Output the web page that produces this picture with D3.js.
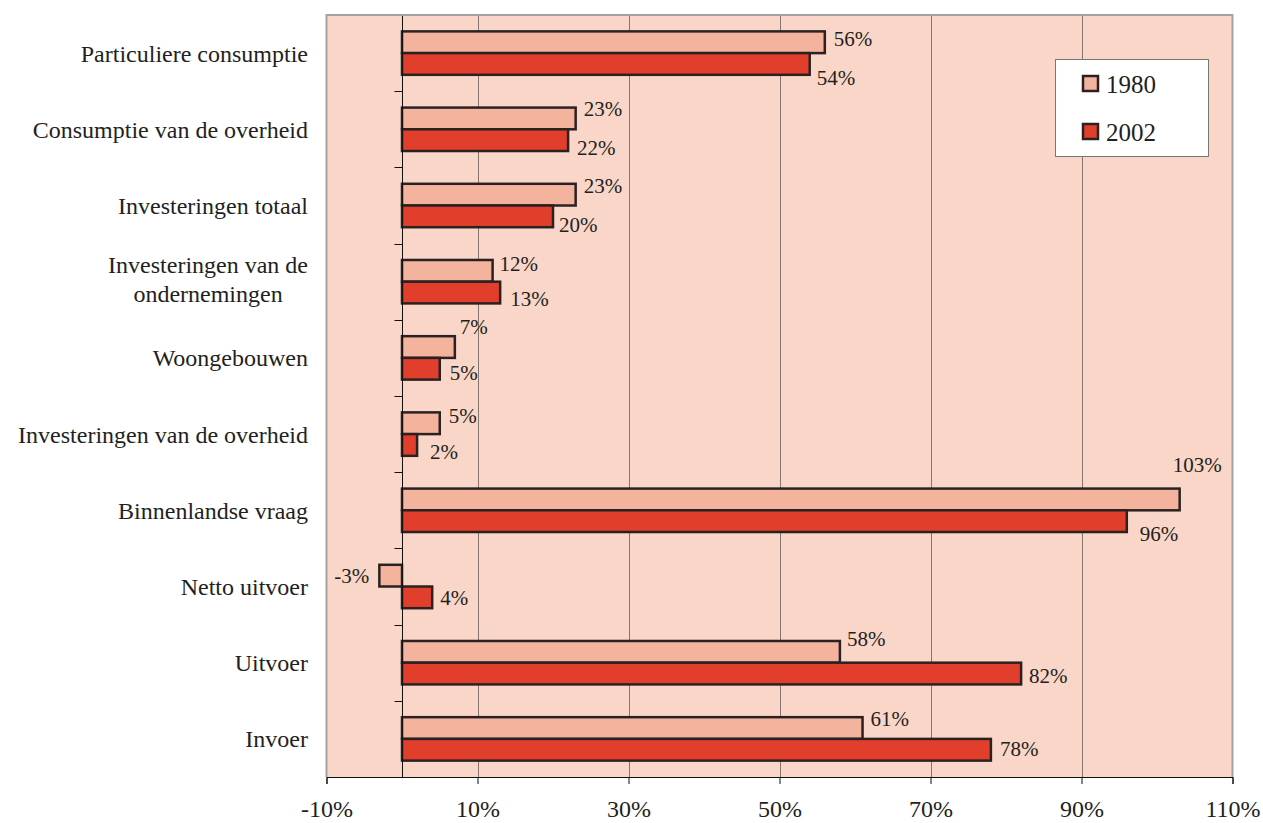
<!DOCTYPE html>
<html>
<head>
<meta charset="utf-8">
<script src="https://cdn.jsdelivr.net/npm/d3@7"></script>
<style>
  html, body { margin: 0; padding: 0; background: #ffffff; }
  svg { display: block; }
  text { font-family: "Liberation Serif", "Times New Roman", serif; fill: #231f20; }
</style>
</head>
<body>
<svg id="chart" width="1263" height="823"></svg>
<script>
// Bestedingscategorieën (in % van het bbp), 1980 versus 2002
const categories = [
  "Particuliere consumptie",
  "Consumptie van de overheid",
  "Investeringen totaal",
  "Investeringen van de\nondernemingen",
  "Woongebouwen",
  "Investeringen van de overheid",
  "Binnenlandse vraag",
  "Netto uitvoer",
  "Uitvoer",
  "Invoer"
];
const values1980 = [56, 23, 23, 12, 7, 5, 103, -3, 58, 61];
const values2002 = [54, 22, 20, 13, 5, 2, 96, 4, 82, 78];
const seriesNames = ["1980", "2002"];
const xTicks = [-10, 10, 30, 50, 70, 90, 110];

// Placement of the value labels: [dx from bar end, dy of baseline from bar centre]
const labelShift1980 = [[9, 4], [8, -2], [8, -1.5], [7, 0], [5, -13.5], [9, 0], [-7, -27], [-10, 7.5], [7, -5.7], [8, -1.6]];
const labelShift2002 = [[7, 21.5], [9, 15], [6, 16], [10, 13], [10, 11.5], [13, 14], [13, 19.5], [8, 7.5], [8, 9], [9, 6.7]];

const colors = { "1980": "#f4b39c", "2002": "#e23e2c" };
const plotBg = "#f9d6c7";
const barStroke = "#2a2222";

const plot = { left: 326.5, right: 1232.5, top: 15, bottom: 777 };

const svg = d3.select("#chart");

const x = d3.scaleLinear().domain([-10, 110]).range([plot.left, plot.right]);
const y = d3.scaleBand().domain(categories).range([plot.top, plot.bottom]).padding(0);
const bw = y.bandwidth();
const barH = bw * 0.285;

// plot background
svg.append("rect")
  .attr("x", plot.left).attr("y", plot.top)
  .attr("width", plot.right - plot.left).attr("height", plot.bottom - plot.top)
  .attr("fill", plotBg);

// vertical gridlines
svg.append("g").selectAll("line")
  .data(xTicks.filter(t => t > -10 && t < 110))
  .join("line")
  .attr("x1", d => Math.round(x(d)) + 0.5).attr("x2", d => Math.round(x(d)) + 0.5)
  .attr("y1", plot.top).attr("y2", plot.bottom)
  .attr("stroke", "#857570").attr("stroke-width", 1);

// bars
const rows = categories.map((c, i) => ({ c, i, v1: values1980[i], v2: values2002[i] }));
const barG = svg.append("g");
barG.selectAll("rect.b1980")
  .data(rows).join("rect").attr("class", "b1980")
  .attr("x", d => x(Math.min(0, d.v1)))
  .attr("y", d => y(d.c) + bw / 2 - barH)
  .attr("width", d => Math.abs(x(d.v1) - x(0)))
  .attr("height", barH)
  .attr("fill", colors["1980"]).attr("stroke", barStroke).attr("stroke-width", 2.5);
barG.selectAll("rect.b2002")
  .data(rows).join("rect").attr("class", "b2002")
  .attr("x", d => x(Math.min(0, d.v2)))
  .attr("y", d => y(d.c) + bw / 2)
  .attr("width", d => Math.abs(x(d.v2) - x(0)))
  .attr("height", barH)
  .attr("fill", colors["2002"]).attr("stroke", barStroke).attr("stroke-width", 2.5);

// category axis at zero
const zeroX = Math.round(x(0)) + 0.5;
svg.append("line")
  .attr("x1", zeroX).attr("x2", zeroX).attr("y1", plot.top).attr("y2", plot.bottom)
  .attr("stroke", "#111").attr("stroke-width", 1);
const bounds = categories.map(c => y(c)).concat([plot.bottom]);
svg.append("g").selectAll("line")
  .data(bounds).join("line")
  .attr("x1", zeroX - 8).attr("x2", zeroX)
  .attr("y1", d => Math.round(d) + 0.5).attr("y2", d => Math.round(d) + 0.5)
  .attr("stroke", "#111").attr("stroke-width", 1);

// plot border (left, top, right)
svg.append("path")
  .attr("d", `M${plot.left},${plot.bottom}V${plot.top}H${plot.right}V${plot.bottom}`)
  .attr("fill", "none").attr("stroke", "#a3a3a3").attr("stroke-width", 2);

// value axis
const xAxis = d3.axisBottom(x).tickValues(xTicks).tickSize(7).tickFormat(d => d + "%");
const xg = svg.append("g")
  .attr("transform", `translate(0,${plot.bottom})`)
  .call(xAxis);
xg.select(".domain").attr("stroke", "#111").attr("stroke-width", 1);
xg.selectAll(".tick line").attr("stroke", "#111");
xg.selectAll(".tick text")
  .attr("y", 40).attr("dy", 0)
  .style("font-family", '"Liberation Serif", "Times New Roman", serif')
  .style("font-size", "24px").attr("fill", "#231f20");

// category labels
const catG = svg.append("g");
categories.forEach(c => {
  const lines = c.split("\n");
  const cy = y(c) + bw / 2;
  const lineH = 28.4;
  const t = catG.append("text")
    .style("font-size", "24px");
  lines.forEach((ln, k) => {
    t.append("tspan").attr("x", 0)
      .attr("y", cy + 8.4 + (k - (lines.length - 1) / 2) * lineH - (lines.length > 1 ? 2.5 : 0))
      .text(ln);
  });
  // right-align the block, centring each line within it
  const tspans = t.selectAll("tspan").nodes();
  const widths = tspans.map(n => n.getComputedTextLength());
  const maxW = d3.max(widths);
  const center = 308 - maxW / 2;
  tspans.forEach(n => {
    d3.select(n).attr("x", center).attr("text-anchor", "middle");
  });
});

// value labels
const labG = svg.append("g").style("font-size", "21px");
rows.forEach(d => {
  const s1 = labelShift1980[d.i];
  const end1 = x(d.v1);
  const c1 = y(d.c) + bw / 2 - barH / 2;
  labG.append("text")
    .attr("x", end1 + s1[0])
    .attr("y", c1 + s1[1])
    .attr("text-anchor", d.v1 < 0 ? "end" : "start")
    .text(d.v1 + "%");
  const s2 = labelShift2002[d.i];
  const end2 = x(d.v2);
  const c2 = y(d.c) + bw / 2 + barH / 2;
  labG.append("text")
    .attr("x", end2 + s2[0])
    .attr("y", c2 + s2[1])
    .attr("text-anchor", d.v2 < 0 ? "end" : "start")
    .text(d.v2 + "%");
});

// legend
const lg = svg.append("g");
lg.append("rect")
  .attr("x", 1055.5).attr("y", 59.5).attr("width", 153).attr("height", 97)
  .attr("fill", "#ffffff").attr("stroke", "#777").attr("stroke-width", 1);
seriesNames.forEach((s, k) => {
  const yy = 76 + k * 48;
  lg.append("rect")
    .attr("x", 1083).attr("y", yy).attr("width", 15).attr("height", 15)
    .attr("fill", colors[s]).attr("stroke", barStroke).attr("stroke-width", 2.5);
  lg.append("text")
    .attr("x", 1106).attr("y", yy + 17)
    .style("font-size", "25px")
    .text(s);
});
</script>
</body>
</html>
